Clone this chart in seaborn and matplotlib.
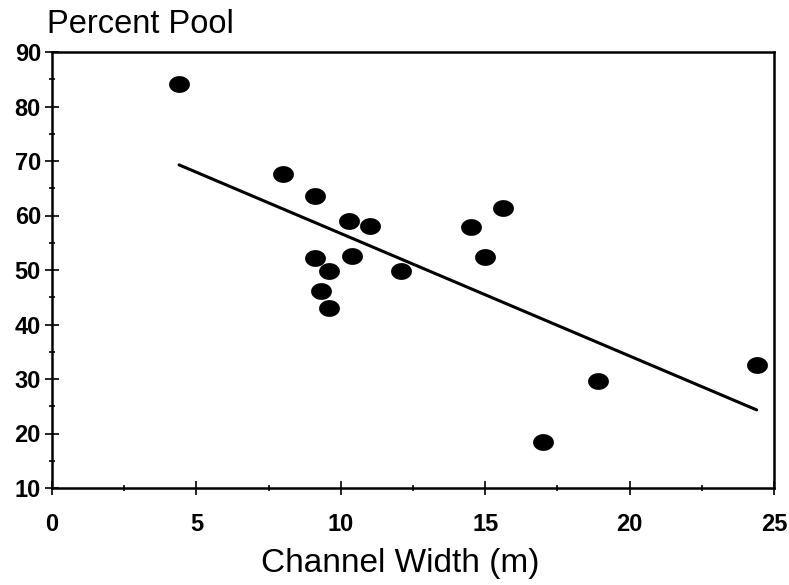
import numpy as np
import pandas as pd
import matplotlib
matplotlib.use("Agg")
import matplotlib.pyplot as plt
from matplotlib.path import Path
from matplotlib.ticker import MultipleLocator
import seaborn as sns

# Data
channel_width = [4.4, 8.0, 9.1, 9.1, 10.3, 11.0, 10.4, 9.6, 9.3, 9.6,
                 12.1, 14.5, 15.6, 15.0, 17.0, 18.9, 24.4]
percent_pool = [84.2, 67.6, 63.5, 52.2, 58.9, 58.0, 52.5, 49.8, 46.1, 43.0,
                49.9, 57.8, 61.4, 52.4, 18.4, 29.6, 32.5]
x_ticks = [0, 5, 10, 15, 20, 25]
y_ticks = [10, 20, 30, 40, 50, 60, 70, 80, 90]

df = pd.DataFrame({"width": channel_width, "pool": percent_pool})

sns.set_theme(style="white")
plt.rcParams["font.family"] = ["Liberation Sans", "DejaVu Sans"]

fig = plt.figure(figsize=(7.89, 5.85), dpi=100)
W, H = 789, 585
left, right, top, bottom = 52, 774, 52, 488
ax = fig.add_axes([left / W, 1 - bottom / H, (right - left) / W, (bottom - top) / H])

# elliptical marker (slightly wider than tall, like the scanned dots)
t = np.linspace(0, 2 * np.pi, 60)
ell = Path(np.column_stack([0.62 * np.cos(t), 0.5 * np.sin(t)]), closed=True)

sns.regplot(data=df, x="width", y="pool", ax=ax, ci=None, truncate=True,
            scatter=False, line_kws=dict(color="black", lw=2.2))
sns.scatterplot(data=df, x="width", y="pool", ax=ax, marker=ell, s=225,
                color="black", edgecolor="black", linewidth=0, zorder=3)

ax.set_xlim(0, 25)
ax.set_ylim(10, 90)
ax.set_xticks(x_ticks)
ax.set_yticks(y_ticks)
ax.xaxis.set_minor_locator(MultipleLocator(2.5))
ax.yaxis.set_minor_locator(MultipleLocator(5))

for s in ax.spines.values():
    s.set_color("black")
    s.set_linewidth(1.8)

ax.tick_params(axis="both", which="major", direction="inout", length=10, width=1.2,
               color="black", labelsize=17, labelcolor="black")
ax.tick_params(axis="both", which="minor", direction="inout", length=5, width=1.2,
               color="black")
ax.tick_params(axis="x", which="major", pad=13, bottom=True)
ax.tick_params(axis="x", which="minor", bottom=True)
ax.tick_params(axis="y", which="major", pad=3, left=True)
ax.tick_params(axis="y", which="minor", left=True)
for lab in ax.get_xticklabels() + ax.get_yticklabels():
    lab.set_fontweight("heavy")

ax.set_xlabel("Channel Width (m)", fontsize=24, color="black")
ax.xaxis.set_label_coords((400 - left) / (right - left), (bottom - 572) / (bottom - top))
ax.xaxis.label.set_va("baseline")
ax.set_ylabel("Percent Pool", fontsize=23.5, color="black", rotation=0,
              ha="left", va="baseline")
ax.yaxis.set_label_coords((47 - left) / (right - left), (bottom - 33) / (bottom - top))

ax.grid(False)
fig.savefig("out.png", dpi=100, facecolor="white")
